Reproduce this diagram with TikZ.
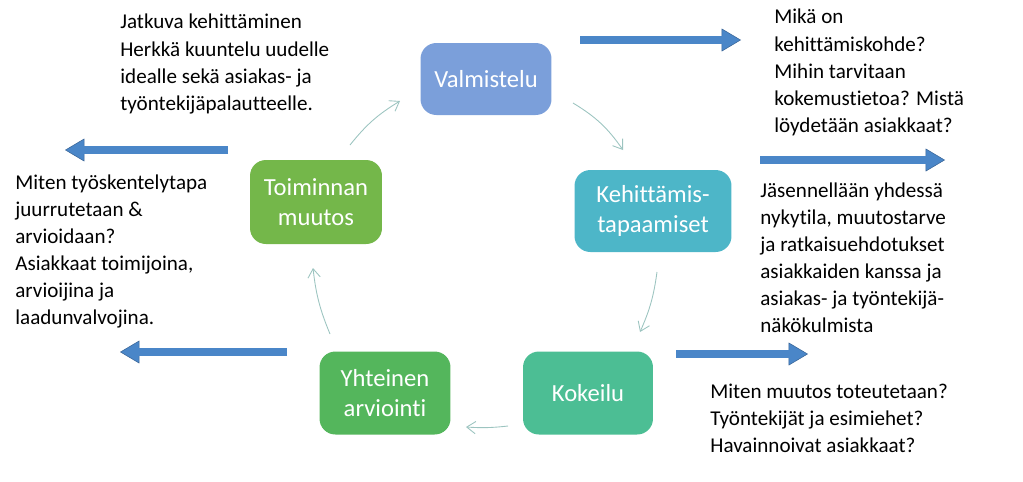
\documentclass[tikz,border=0pt]{standalone}
\usepackage{fontspec}
\setmainfont{Carlito}[Contextuals=NoAlternate,Ligatures=NoCommon]
\usetikzlibrary{arrows.meta}
\definecolor{cV}{HTML}{7B9FDA}
\definecolor{cK}{HTML}{4DB6C8}
\definecolor{cKo}{HTML}{4CBE94}
\definecolor{cY}{HTML}{54B65C}
\definecolor{cT}{HTML}{74B74A}
\definecolor{blu}{HTML}{4A86C8}
\definecolor{thinc}{HTML}{9CC4C0}
\tikzset{
 box/.style={rounded corners=9pt, text=white, align=center, font=\fontsize{14}{17}\selectfont, inner sep=0pt},
 txt/.style={anchor=north west, align=left, inner sep=0pt, font=\fontsize{12}{15.4}\selectfont},
 cyc/.style={draw=thinc, line width=0.5pt, -{Straight Barb[length=5pt,width=7pt]}},
}
\begin{document}
\begin{tikzpicture}[x=0.02cm,y=-0.02cm]
\useasboundingbox (0,0) rectangle (1023,481);
\node[box, fill=cV, minimum width=2.62cm, minimum height=1.44cm] (v) at (486,79) {Valmistelu};
\node[box, fill=cK, minimum width=3.14cm, minimum height=1.64cm] (k) at (653,211) {Kehittämis-\\tapaamiset};
\node[box, fill=cKo, minimum width=2.6cm, minimum height=1.66cm] (ko) at (588,393) {Kokeilu};
\node[box, fill=cY, minimum width=2.62cm, minimum height=1.66cm] (y) at (385,393) {Yhteinen\\arviointi};
\node[box, fill=cT, minimum width=2.64cm, minimum height=1.68cm] (t) at (316,202) {Toiminnan\\muutos};
\coordinate (a1) at (573,103); \coordinate (b1) at (623,150);
\coordinate (a2) at (657,272); \coordinate (b2) at (640,332);
\coordinate (a3) at (508,426); \coordinate (b3) at (466,427);
\coordinate (a4) at (330,334); \coordinate (b4) at (313,268);
\coordinate (a5) at (350,145); \coordinate (b5) at (400,101);
\draw[cyc] (a1) to[bend left=12] (b1);
\draw[cyc] (a2) to[bend left=8] (b2);
\draw[cyc] (a3) to[bend left=5] (b3);
\draw[cyc] (a4) to[bend left=8] (b4);
\draw[cyc] (a5) to[bend left=10] (b5);
\coordinate (p1) at (580,40); \coordinate (q1) at (741,40);
\coordinate (p2) at (760,160); \coordinate (q2) at (945,160);
\coordinate (p3) at (676,354); \coordinate (q3) at (808,354);
\coordinate (p4) at (228,150); \coordinate (q4) at (65,150);
\coordinate (p5) at (287,352); \coordinate (q5) at (120,352);
\foreach \p/\q in {p1/q1,p2/q2,p3/q3,p4/q4,p5/q5}
  \draw[blu!75!black, line width=0.3pt, -{Triangle[length=11pt,width=13pt,fill=blu]}] (\p) -- (\q);
\foreach \p/\q in {p1/q1,p2/q2,p3/q3,p4/q4,p5/q5}
  \draw[blu, line width=4.5pt, shorten >=9pt] (\p) -- (\q);
\node[txt] (t1) at (120,14) {Jatkuva kehittäminen\\Herkkä kuuntelu uudelle\\idealle sekä asiakas- ja\\työntekijäpalautteelle.};
\node[txt] (t2) at (774,9) {Mikä on\\kehittämiskohde?\\Mihin tarvitaan\\kokemustietoa? Mistä\\löydetään asiakkaat?};
\node[txt] (t3) at (760,182) {Jäsennellään yhdessä\\nykytila, muutostarve\\ja ratkaisuehdotukset\\asiakkaiden kanssa ja\\asiakas- ja työntekijä-\\näkökulmista};
\node[txt] (t4) at (710,384) {Miten muutos toteutetaan?\\Työntekijät ja esimiehet?\\Havainnoivat asiakkaat?};
\node[txt] (t5) at (15,174) {Miten työskentelytapa\\juurrutetaan \&\\arvioidaan?\\Asiakkaat toimijoina,\\arvioijina ja\\laadunvalvojina.};
\end{tikzpicture}
\end{document}
